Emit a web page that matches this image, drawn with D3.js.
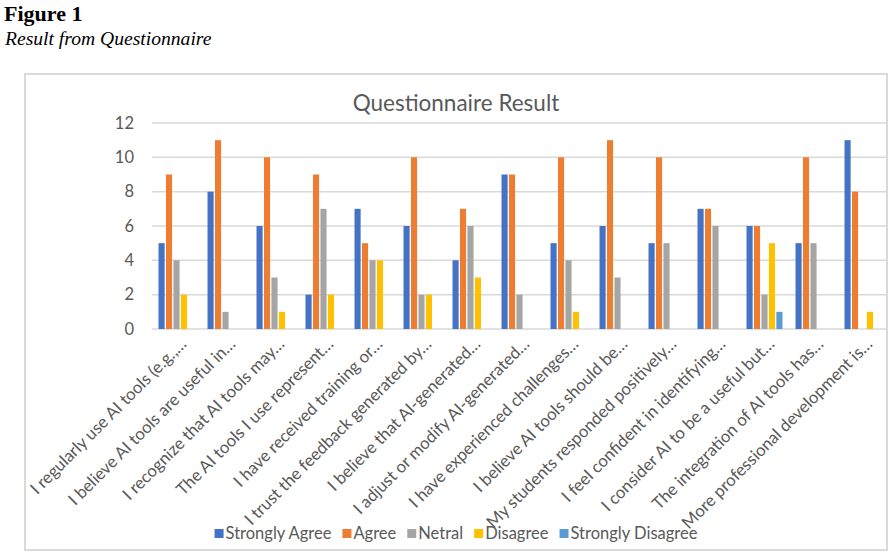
<!DOCTYPE html>
<html>
<head>
<meta charset="utf-8">
<script src="https://cdn.jsdelivr.net/npm/d3@7"></script>
<style>
  body { margin: 0; background: #fff; }
  text { font-family: Lato, "Open Sans", sans-serif; fill: #595959; }
</style>
</head>
<body>
<div id="chart"></div>
<script>
const width = 892, height = 556;

// Questionnaire items (as truncated on the axis)
const categories = [
    "I regularly use AI tools (e.g.,…",
    "I believe AI tools are useful in…",
    "I recognize that AI tools may…",
    "The AI tools I use represent…",
    "I have received training or…",
    "I trust the feedback generated by…",
    "I believe that AI-generated…",
    "I adjust or modify AI-generated…",
    "I have experienced challenges…",
    "I believe AI tools should be…",
    "My students responded positively…",
    "I feel confident in identifying…",
    "I consider AI to be a useful but…",
    "The integration of AI tools has…",
    "More professional development is…"
];

const seriesNames = ["Strongly Agree", "Agree", "Netral", "Disagree", "Strongly Disagree"];
const stronglyAgree    = [5, 8, 6, 2, 7, 6, 4, 9, 5, 6, 5, 7, 6, 5, 11];
const agree            = [9, 11, 10, 9, 5, 10, 7, 9, 10, 11, 10, 7, 6, 10, 8];
const netral           = [4, 1, 3, 7, 4, 2, 6, 2, 4, 3, 5, 6, 2, 5, 0];
const disagree         = [2, 0, 1, 2, 4, 2, 3, 0, 1, 0, 0, 0, 5, 0, 1];
const stronglyDisagree = [0, 0, 0, 0, 0, 0, 0, 0, 0, 0, 0, 0, 1, 0, 0];
const yTicks = [0, 2, 4, 6, 8, 10, 12];

const colors = ["#4472C4", "#ED7D31", "#A5A5A5", "#FFC000", "#5B9BD5"];
const series = [stronglyAgree, agree, netral, disagree, stronglyDisagree];

const svg = d3.select("#chart")
    .append("svg")
    .attr("width", width)
    .attr("height", height);

// Figure caption
svg.append("text")
    .attr("x", 4).attr("y", 21)
    .style("font-family", "'Liberation Serif', serif")
    .style("font-weight", "bold")
    .style("font-size", "22px")
    .style("fill", "#000")
    .text("Figure 1");

svg.append("text")
    .attr("x", 5).attr("y", 45)
    .style("font-family", "'Liberation Serif', serif")
    .style("font-style", "italic")
    .style("font-size", "19.6px")
    .style("fill", "#000")
    .text("Result from Questionnaire");

// Chart frame
const frame = { x0: 25, y0: 74, x1: 887, y1: 550 };
svg.append("rect")
    .attr("x", frame.x0).attr("y", frame.y0)
    .attr("width", frame.x1 - frame.x0)
    .attr("height", frame.y1 - frame.y0)
    .attr("fill", "none")
    .attr("stroke", "#d9d9d9")
    .attr("stroke-width", 2);

const cx = (frame.x0 + frame.x1) / 2;

svg.append("text")
    .attr("x", cx).attr("y", 111)
    .attr("text-anchor", "middle")
    .style("font-size", "22.5px")
    .text("Questionnaire Result");

// Scales
const plot = { left: 152, right: 887, top: 123, bottom: 329 };
const x0 = d3.scaleBand()
    .domain(categories)
    .range([plot.left, plot.right])
    .paddingInner(0.266)
    .paddingOuter(0.133);
const x1 = d3.scaleBand()
    .domain(d3.range(seriesNames.length))
    .range([0, x0.bandwidth()])
    .paddingInner(0.18);
const y = d3.scaleLinear().domain([0, 12]).range([plot.bottom, plot.top]);

// Gridlines
svg.append("g")
    .selectAll("line")
    .data(yTicks)
    .enter()
    .append("line")
    .attr("x1", plot.left).attr("x2", plot.right)
    .attr("y1", d => y(d)).attr("y2", d => y(d))
    .attr("stroke", "#d9d9d9")
    .attr("stroke-width", 1.5);

// Y axis labels
const yAxis = svg.append("g")
    .attr("transform", `translate(${plot.left - 8},0)`)
    .call(d3.axisLeft(y).tickValues(yTicks).tickSize(0).tickPadding(10));
yAxis.select(".domain").remove();
yAxis.selectAll("text")
    .attr("transform", "translate(0,0)")
    .style("font-size", "16.5px")
    .style("fill", "#595959");

// Bars
const groups = svg.append("g")
    .selectAll("g")
    .data(categories)
    .enter()
    .append("g")
    .attr("transform", d => `translate(${x0(d)},0)`);

groups.selectAll("rect")
    .data((d, i) => series.map((s, k) => ({ k, v: s[i] })))
    .enter()
    .append("rect")
    .attr("x", d => x1(d.k))
    .attr("width", x1.bandwidth())
    .attr("y", d => y(d.v))
    .attr("height", d => y(0) - y(d.v))
    .attr("fill", d => colors[d.k]);

// Category labels, rotated
svg.append("g")
    .selectAll("text")
    .data(categories)
    .enter()
    .append("text")
    .attr("text-anchor", "end")
    .attr("transform", d => `translate(${x0(d) + x0.bandwidth() / 2 + 11},345) rotate(-45)`)
    .style("font-size", "16.8px")
    .text(d => d);

// Legend
const legend = svg.append("g");
const items = legend.selectAll("g")
    .data(seriesNames)
    .enter()
    .append("g");
items.append("rect")
    .attr("width", 9).attr("height", 9)
    .attr("y", 529)
    .attr("fill", (d, i) => colors[i]);
items.append("text")
    .attr("x", 11).attr("y", 539)
    .style("font-size", "16.5px")
    .text(d => d);

let offset = 0;
const widths = [];
items.each(function() {
    const w = d3.select(this).select("text").node().getComputedTextLength();
    widths.push(w);
});
const total = d3.sum(widths) + widths.length * 11 + (widths.length - 1) * 11;
offset = cx - total / 2;
items.attr("transform", (d, i) => {
    const t = `translate(${offset},0)`;
    offset += 11 + widths[i] + 11;
    return t;
});
</script>
</body>
</html>
